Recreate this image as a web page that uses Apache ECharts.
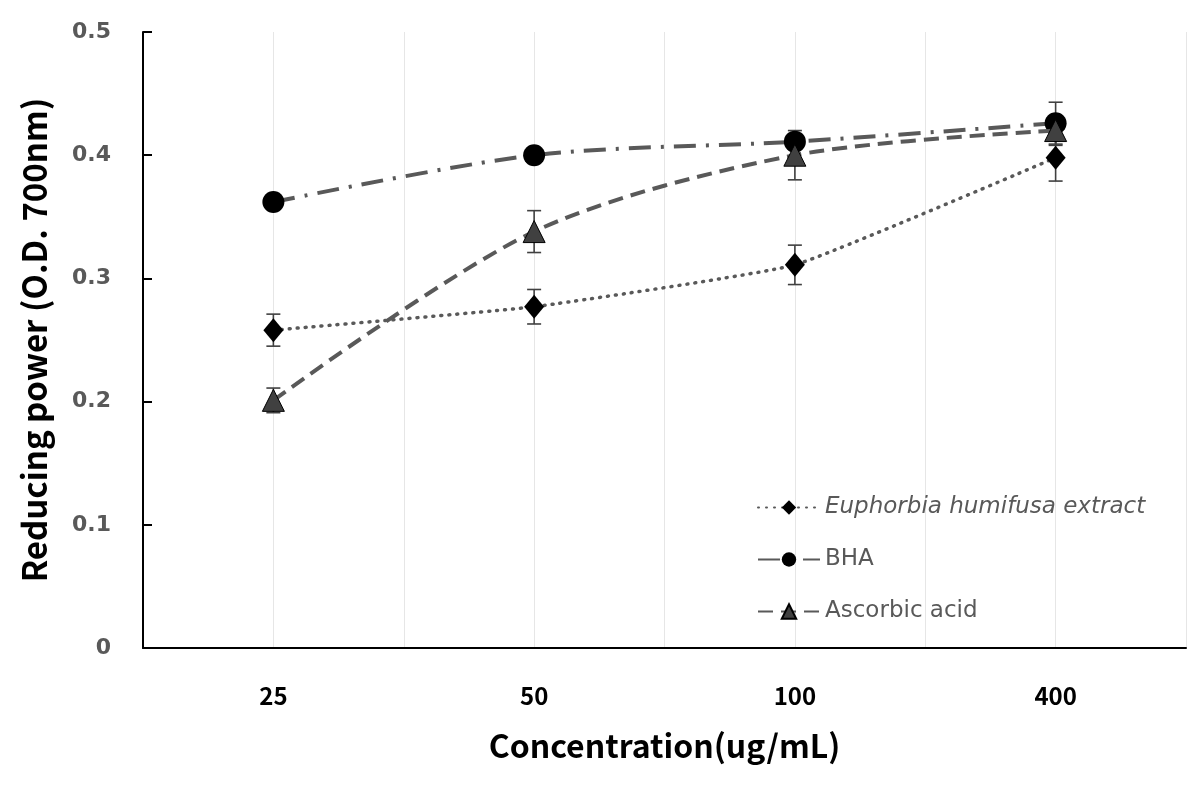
<!DOCTYPE html>
<html>
<head>
<meta charset="utf-8">
<script src="https://cdn.jsdelivr.net/npm/echarts@6/dist/echarts.min.js"></script>
<style>
  html, body { margin: 0; padding: 0; background: #fff; }
  #main { width: 1203px; height: 792px; }
</style>
</head>
<body>
<div id="main"></div>
<script>
// concentrations (ug/mL)
var categories = ['25', '50', '100', '400']
var seriesNames = ['Euphorbia humifusa extract', 'BHA', 'Ascorbic acid']

// reducing power (O.D. 700nm) and std errors
var euphorbia = [0.258, 0.277, 0.311, 0.398]
var euphorbiaErr = [0.013, 0.014, 0.016, 0.019]
var bha = [0.362, 0.400, 0.411, 0.426]
var bhaErr = [0.004, 0.004, 0.006, 0.017]
var ascorbic = [0.201, 0.338, 0.400, 0.420]
var ascorbicErr = [0.010, 0.017, 0.020, 0.012]

var yTicks = [0, 0.1, 0.2, 0.3, 0.4, 0.5]

var lineColor = '#595959'
var cjk = '"Noto Sans CJK KR", "Noto Sans", sans-serif'
var dejavu = '"DejaVu Sans", sans-serif'

function errData(vals, errs) {
  return vals.map(function (v, i) { return [i, v - errs[i], v + errs[i]] })
}

function errSeries(vals, errs) {
  return {
    type: 'custom',
    xAxisIndex: 0,
    z: 3,
    silent: true,
    data: errData(vals, errs),
    renderItem: function (params, api) {
      var lo = api.coord([api.value(0), api.value(1)])
      var hi = api.coord([api.value(0), api.value(2)])
      var w = 7
      var style = { stroke: '#404040', lineWidth: 1.6 }
      return {
        type: 'group',
        children: [
          { type: 'line', shape: { x1: lo[0], y1: lo[1], x2: hi[0], y2: hi[1] }, style: style },
          { type: 'line', shape: { x1: lo[0] - w, y1: lo[1], x2: lo[0] + w, y2: lo[1] }, style: style },
          { type: 'line', shape: { x1: hi[0] - w, y1: hi[1], x2: hi[0] + w, y2: hi[1] }, style: style }
        ]
      }
    }
  }
}

var myChart = echarts.init(document.getElementById('main'))

var option = {
  animation: false,
  backgroundColor: '#fff',
  grid: {
    left: 143,
    right: 17,
    top: 32,
    bottom: 144
  },
  legend: {
    orient: 'vertical',
    left: 752,
    top: 491,
    itemWidth: 62,
    itemHeight: 18,
    itemGap: 29,
    data: seriesNames,
    formatter: function (name) {
      return name === seriesNames[0] ? '{i|' + name + '}' : name
    },
    textStyle: {
      color: lineColor,
      fontSize: 23,
      fontFamily: dejavu,
      rich: {
        i: { fontStyle: 'italic', fontSize: 23, color: lineColor, fontFamily: dejavu }
      }
    }
  },
  xAxis: [
    {
      type: 'category',
      data: categories,
      boundaryGap: true,
      axisLine: { lineStyle: { color: '#000', width: 2 } },
      axisTick: { show: false },
      splitLine: { show: false },
      axisLabel: {
        margin: 36,
        color: '#000',
        fontSize: 24,
        fontWeight: 'bold',
        fontFamily: cjk
      },
      name: 'Concentration(ug/mL)',
      nameLocation: 'middle',
      nameGap: 82,
      nameTextStyle: {
        color: '#000',
        fontSize: 32,
        fontWeight: 'bold',
        fontFamily: cjk
      }
    },
    {
      // minor vertical gridlines, every half category
      type: 'value',
      min: 0,
      max: categories.length * 2,
      interval: 1,
      position: 'bottom',
      axisLine: { show: false },
      axisTick: { show: false },
      axisLabel: { show: false },
      splitLine: { show: true, lineStyle: { color: '#e6e6e6', width: 1 } }
    }
  ],
  yAxis: {
    type: 'value',
    min: 0,
    max: 0.5,
    interval: 0.1,
    axisLine: { show: true, lineStyle: { color: '#000', width: 2 } },
    axisTick: { show: true, inside: true, length: 9, lineStyle: { color: '#000', width: 2 } },
    splitLine: { show: false },
    axisLabel: {
      margin: 32,
      color: lineColor,
      fontSize: 22,
      fontWeight: 'bold',
      fontFamily: dejavu,
      formatter: function (v) {
        var t = yTicks.find(function (y) { return Math.abs(y - v) < 1e-9 })
        return String(t === undefined ? v : t)
      }
    },
    name: 'Reducing power (O.D. 700nm)',
    nameLocation: 'middle',
    nameGap: 92,
    nameTextStyle: {
      color: '#000',
      fontSize: 33,
      fontWeight: 'bold',
      fontFamily: cjk
    }
  },
  series: [
    errSeries(euphorbia, euphorbiaErr),
    errSeries(bha, bhaErr),
    errSeries(ascorbic, ascorbicErr),
    {
      name: seriesNames[0],
      type: 'line',
      data: euphorbia,
      smooth: 0.12,
      z: 4,
      symbol: 'diamond',
      symbolSize: [20, 24],
      itemStyle: { color: '#000' },
      lineStyle: { color: lineColor, width: 3.5, type: [1, 7], cap: 'round' }
    },
    {
      name: seriesNames[1],
      type: 'line',
      data: bha,
      smooth: 0.3,
      z: 5,
      symbol: 'circle',
      symbolSize: 22,
      itemStyle: { color: '#000' },
      lineStyle: { color: lineColor, width: 4, type: [22, 10, 3, 10] }
    },
    {
      name: seriesNames[2],
      type: 'line',
      data: ascorbic,
      smooth: 0.3,
      z: 6,
      symbol: 'triangle',
      symbolSize: 22,
      itemStyle: { color: '#404040', borderColor: '#000', borderWidth: 1 },
      lineStyle: { color: lineColor, width: 4, type: [15, 8] }
    }
  ]
}

myChart.setOption(option)
</script>
</body>
</html>
